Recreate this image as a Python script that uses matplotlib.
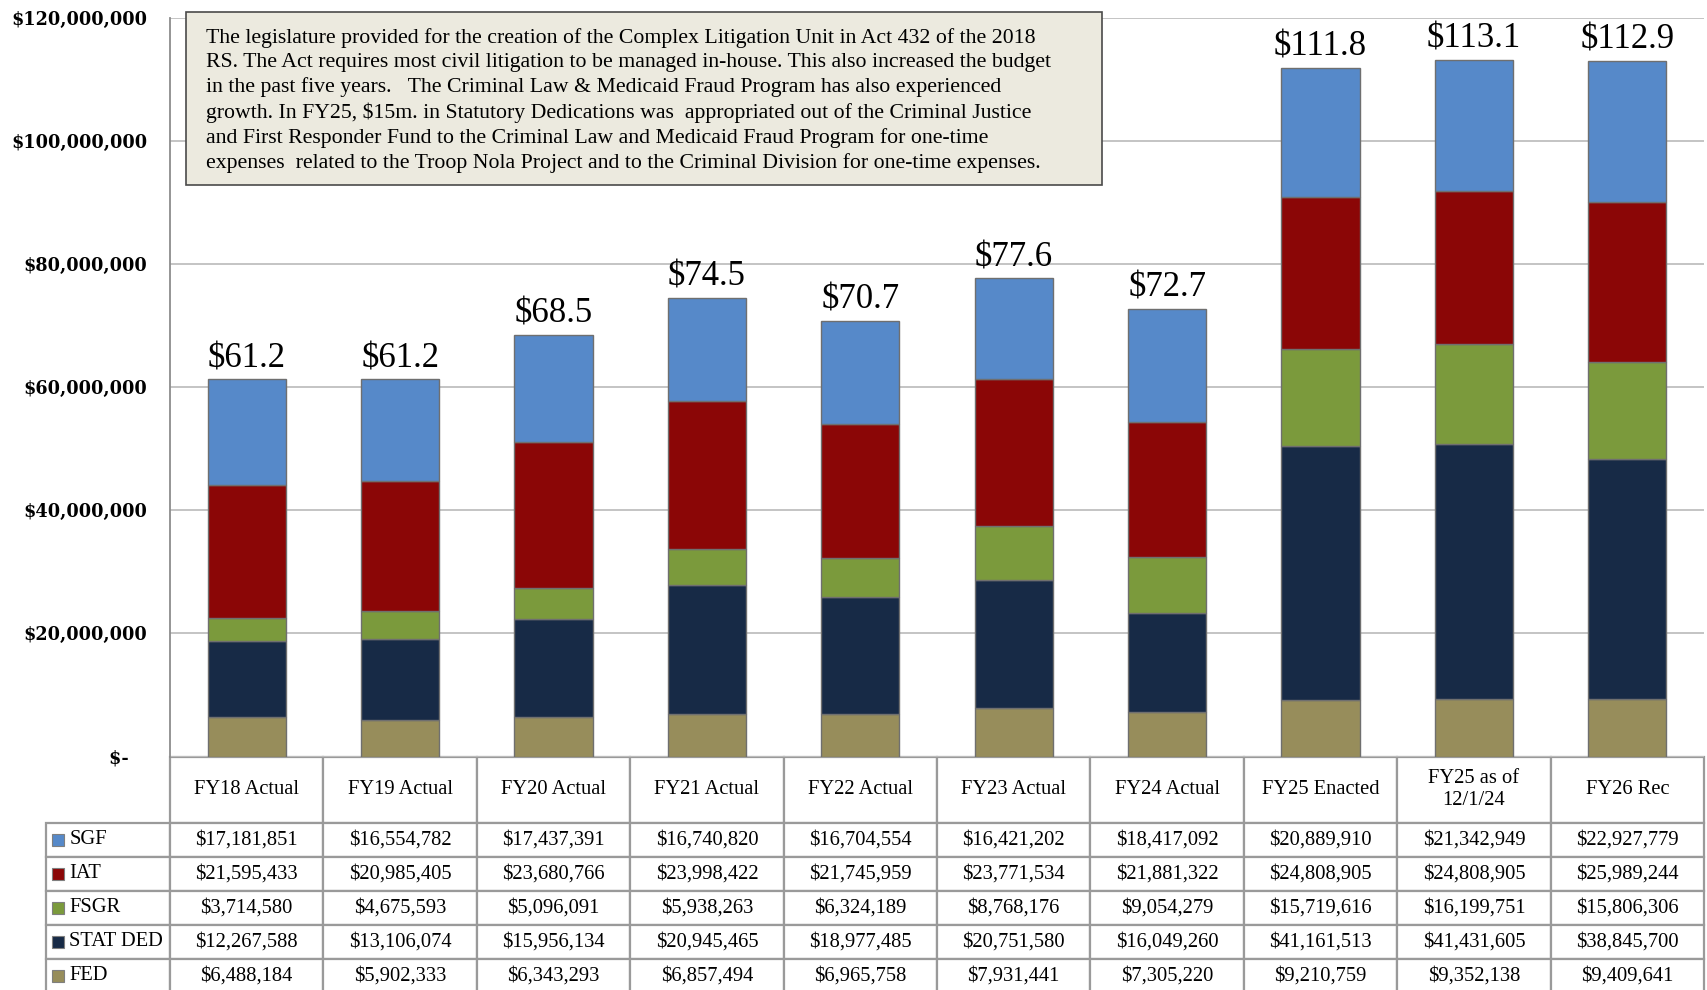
import matplotlib
matplotlib.use("Agg")
import matplotlib.pyplot as plt
from matplotlib.patches import Rectangle
import numpy as np

plt.rcParams['text.parse_math'] = False

categories = ["FY18 Actual", "FY19 Actual", "FY20 Actual", "FY21 Actual", "FY22 Actual",
              "FY23 Actual", "FY24 Actual", "FY25 Enacted", "FY25 as of\n12/1/24", "FY26 Rec"]
sgf = [17181851, 16554782, 17437391, 16740820, 16704554, 16421202, 18417092, 20889910, 21342949, 22927779]
iat = [21595433, 20985405, 23680766, 23998422, 21745959, 23771534, 21881322, 24808905, 24808905, 25989244]
fsgr = [3714580, 4675593, 5096091, 5938263, 6324189, 8768176, 9054279, 15719616, 16199751, 15806306]
stat_ded = [12267588, 13106074, 15956134, 20945465, 18977485, 20751580, 16049260, 41161513, 41431605, 38845700]
fed = [6488184, 5902333, 6343293, 6857494, 6965758, 7931441, 7305220, 9210759, 9352138, 9409641]
total_labels = ["$61.2", "$61.2", "$68.5", "$74.5", "$70.7", "$77.6", "$72.7", "$111.8", "$113.1", "$112.9"]

series_names = ["SGF", "IAT", "FSGR", "STAT DED", "FED"]
series_vals = [sgf, iat, fsgr, stat_ded, fed]
colors = {"SGF": "#5689C9", "IAT": "#8B0606", "FSGR": "#7B9A3C", "STAT DED": "#172A46", "FED": "#978D5B"}

note = ("The legislature provided for the creation of the Complex Litigation Unit in Act 432 of the 2018\n"
        "RS. The Act requires most civil litigation to be managed in-house. This also increased the budget\n"
        "in the past five years.   The Criminal Law & Medicaid Fraud Program has also experienced\n"
        "growth. In FY25, $15m. in Statutory Dedications was  appropriated out of the Criminal Justice\n"
        "and First Responder Fund to the Criminal Law and Medicaid Fraud Program for one-time\n"
        "expenses  related to the Troop Nola Project and to the Criminal Division for one-time expenses.")

serif = "Liberation Serif"

fig = plt.figure(figsize=(17.08, 9.9), dpi=100)
ax = fig.add_axes([170 / 1708, 1 - 756.5 / 990, 1534 / 1708, 739 / 990])
AW, AH = 1534, 739  # axes size in px

x = np.arange(len(categories))
bottom = np.zeros(len(categories))
for name in ["FED", "STAT DED", "FSGR", "IAT", "SGF"]:
    vals = np.array(series_vals[series_names.index(name)], dtype=float)
    ax.bar(x, vals, 0.51, bottom=bottom, color=colors[name], edgecolor="#6f6f6f",
           linewidth=1.0, zorder=3)
    bottom += vals

for xi, top, lab in zip(x, bottom, total_labels):
    ax.annotate(lab, (xi, top), xytext=(0, 3), textcoords="offset points",
                ha="center", va="bottom", fontsize=25, family=serif, zorder=5)

ax.set_xlim(-0.5, len(categories) - 0.5)
ax.set_ylim(0, 120e6)
ticks = np.arange(0, 120e6 + 1, 20e6)
ax.set_yticks(ticks)
ax.set_yticklabels(["$-   "] + [f"${int(t):,}" for t in ticks[1:]],
                   family="DejaVu Serif", fontweight="bold", fontsize=12.7)
ax.tick_params(axis="y", length=0, pad=16.5)
ax.set_xticks([])
ax.grid(axis="y", color="#BFBFBF", linewidth=1.3, zorder=0)
for s in ["top", "right", "bottom"]:
    ax.spines[s].set_visible(False)
ax.spines["left"].set_color("#8C8C8C")
ax.spines["left"].set_linewidth(1.3)

# note box
ax.add_patch(Rectangle((16 / AW, 1 - 167.5 / AH), 916 / AW, 173 / AH,
                       transform=ax.transAxes, facecolor="#ECEADF", edgecolor="#4A4A4A",
                       linewidth=1.2, zorder=6, clip_on=False))
ax.text(36 / AW, 1 - 11 / AH, note, transform=ax.transAxes, ha="left", va="top",
        fontsize=15.7, family=serif, linespacing=1.345, zorder=7)

# data table: first column holds the series names, its header cell is hidden
hdr_h, row_h, lab_w, col_w = 66.5, 34, 124.3, 153.4
cell_text = [[nm] + [f"${v:,}" for v in vals] for nm, vals in zip(series_names, series_vals)]
tbl = ax.table(cellText=cell_text, colLabels=[""] + categories, cellLoc="center",
               bbox=[-lab_w / AW, -(hdr_h + 5 * row_h) / AH, 1 + lab_w / AW,
                     (hdr_h + 5 * row_h) / AH])
tbl.auto_set_font_size(False)
tbl.set_fontsize(14.8)
for (r, c), cell in tbl.get_celld().items():
    cell.set_edgecolor("#9A9A9A")
    cell.set_linewidth(1.6)
    cell.get_text().set_family(serif)
    cell.set_width((lab_w if c == 0 else col_w) / AW)
    cell.set_height((hdr_h if r == 0 else row_h) / AH)
    if c == 0:
        if r == 0:
            cell.set_visible(False)
        cell.get_text().set_horizontalalignment("left")
        cell.PAD = 0.19

# legend squares in row labels
row_y = [-(hdr_h + row_h * i + row_h / 2) / AH for i in range(len(series_names))]
for name, yy in zip(series_names, row_y):
    ax.add_patch(Rectangle((-(lab_w - 6.5) / AW, yy - 6 / AH), 12 / AW, 12 / AH,
                           transform=ax.transAxes, facecolor=colors[name],
                           edgecolor="#7f7f7f", linewidth=0.8, clip_on=False, zorder=8))

fig.savefig("out.png", dpi=100)
